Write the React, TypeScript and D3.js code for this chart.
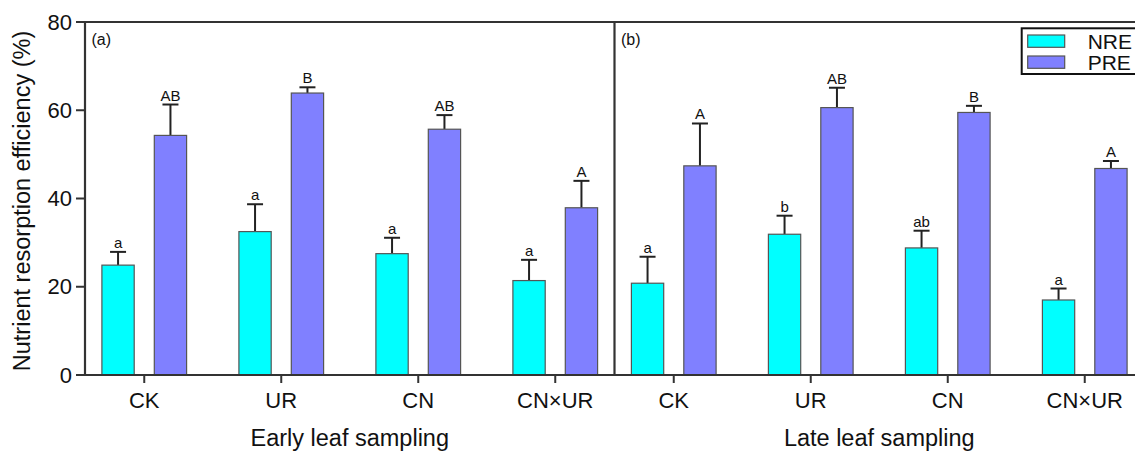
import React from "react";
import * as d3 from "d3";

const categories = ["CK", "UR", "CN", "CN×UR"];
const seriesNames = ["NRE", "PRE"];
const panelTitles = ["Early leaf sampling", "Late leaf sampling"];
const panelTags = ["(a)", "(b)"];

// Early leaf sampling
const earlyNRE = [24.9, 32.5, 27.5, 21.4];
const earlyNREErr = [3.0, 6.2, 3.6, 4.7];
const earlyPRE = [54.3, 63.9, 55.7, 37.9];
const earlyPREErr = [7.0, 1.3, 3.2, 6.1];
const earlyNRELetters = ["a", "a", "a", "a"];
const earlyPRELetters = ["AB", "B", "AB", "A"];

// Late leaf sampling
const lateNRE = [20.8, 31.9, 28.8, 17.0];
const lateNREErr = [6.0, 4.2, 3.9, 2.6];
const latePRE = [47.4, 60.6, 59.5, 46.8];
const latePREErr = [9.6, 4.5, 1.5, 1.7];
const lateNRELetters = ["a", "b", "ab", "a"];
const latePRELetters = ["A", "AB", "B", "A"];

const yTicks = [0, 20, 40, 60, 80];
const colors = ["#00FFFF", "#8080FF"];

const FONT = "'Liberation Sans', Arial, Helvetica, sans-serif";

export default function App() {
  const W = 1135;
  const H = 451;
  const top = 22;
  const bottom = 375;
  const panelW = 529.5;
  const panelX0 = [85, 614.5];

  const y = d3.scaleLinear().domain([0, 80]).range([bottom, top]);

  const panels = [
    {
      vals: [earlyNRE, earlyPRE],
      errs: [earlyNREErr, earlyPREErr],
      letters: [earlyNRELetters, earlyPRELetters],
    },
    {
      vals: [lateNRE, latePRE],
      errs: [lateNREErr, latePREErr],
      letters: [lateNRELetters, latePRELetters],
    },
  ];

  const inner = d3
    .scaleBand<string>()
    .domain(seriesNames)
    .range([-42.35, 42.35])
    .paddingInner(0.3836)
    .paddingOuter(0);
  const bw = inner.bandwidth();

  const axisColor = "#333";

  return (
    <svg
      width={W}
      height={H}
      style={{ position: "absolute", left: 0, top: 0, background: "#fff" }}
      fontFamily={FONT}
    >
      <rect x={0} y={0} width={W} height={H} fill="#fff" />
      {panels.map((p, pi) => {
        const x0 = panelX0[pi];
        const x = d3
          .scalePoint<string>()
          .domain(categories)
          .range([x0, x0 + panelW])
          .padding(0.4325);
        return (
          <g key={pi}>
            {p.vals.map((vals, si) =>
              vals.map((v, ci) => {
                const cx = (x(categories[ci]) as number) + (inner(seriesNames[si]) as number);
                const mid = cx + bw / 2;
                const yTop = y(v);
                const yErr = y(v + p.errs[si][ci]);
                return (
                  <g key={`${si}-${ci}`}>
                    <line x1={mid} x2={mid} y1={yTop} y2={yErr} stroke="#222" strokeWidth={2} />
                    <line x1={mid - 8} x2={mid + 8} y1={yErr} y2={yErr} stroke="#222" strokeWidth={2} />
                    <rect
                      x={cx}
                      y={yTop}
                      width={bw}
                      height={bottom - yTop}
                      fill={colors[si]}
                      stroke="#555"
                      strokeWidth={1.2}
                    />
                    <text
                      x={mid}
                      y={yErr - 4}
                      textAnchor="middle"
                      fontSize={15}
                      fill="#111"
                    >
                      {p.letters[si][ci]}
                    </text>
                  </g>
                );
              })
            )}
            {categories.map((c) => (
              <g key={c}>
                <line
                  x1={x(c)}
                  x2={x(c)}
                  y1={bottom}
                  y2={bottom + 8}
                  stroke={axisColor}
                  strokeWidth={2}
                />
                <text x={x(c)} y={408} textAnchor="middle" fontSize={22} fill="#111">
                  {c}
                </text>
              </g>
            ))}
            <text
              x={x0 + panelW / 2}
              y={445.5}
              textAnchor="middle"
              fontSize={23.5}
              fill="#111"
            >
              {panelTitles[pi]}
            </text>
            <text x={x0 + 6.5} y={45} fontSize={16} fill="#111">
              {panelTags[pi]}
            </text>
            <line x1={x0} x2={x0} y1={top - 1} y2={bottom + 1} stroke={axisColor} strokeWidth={2.2} />
          </g>
        );
      })}
      <line x1={84} x2={W + 20} y1={top} y2={top} stroke={axisColor} strokeWidth={2} />
      <line x1={84} x2={W + 20} y1={bottom} y2={bottom} stroke={axisColor} strokeWidth={2} />
      {yTicks.map((t) => (
        <g key={t}>
          <line x1={76} x2={85} y1={y(t)} y2={y(t)} stroke={axisColor} strokeWidth={2} />
          <text x={72} y={y(t)} dy="0.35em" textAnchor="end" fontSize={22} fill="#111">
            {t}
          </text>
        </g>
      ))}
      <text
        transform={`translate(29.5, 201) rotate(-90)`}
        textAnchor="middle"
        fontSize={23.5}
        fill="#111"
      >
        Nutrient resorption efficiency (%)
      </text>
      <g>
        <rect x={1021.7} y={28.3} width={140} height={45.7} fill="#fff" stroke="#111" strokeWidth={2} />
        {seriesNames.map((s, i) => (
          <g key={s}>
            <rect
              x={1027.7}
              y={35 + i * 21}
              width={37}
              height={12.3}
              fill={colors[i]}
              stroke="#555"
              strokeWidth={1.2}
            />
            <text x={1087.7} y={49 + i * 21} fontSize={21} fill="#111">
              {s}
            </text>
          </g>
        ))}
      </g>
    </svg>
  );
}
